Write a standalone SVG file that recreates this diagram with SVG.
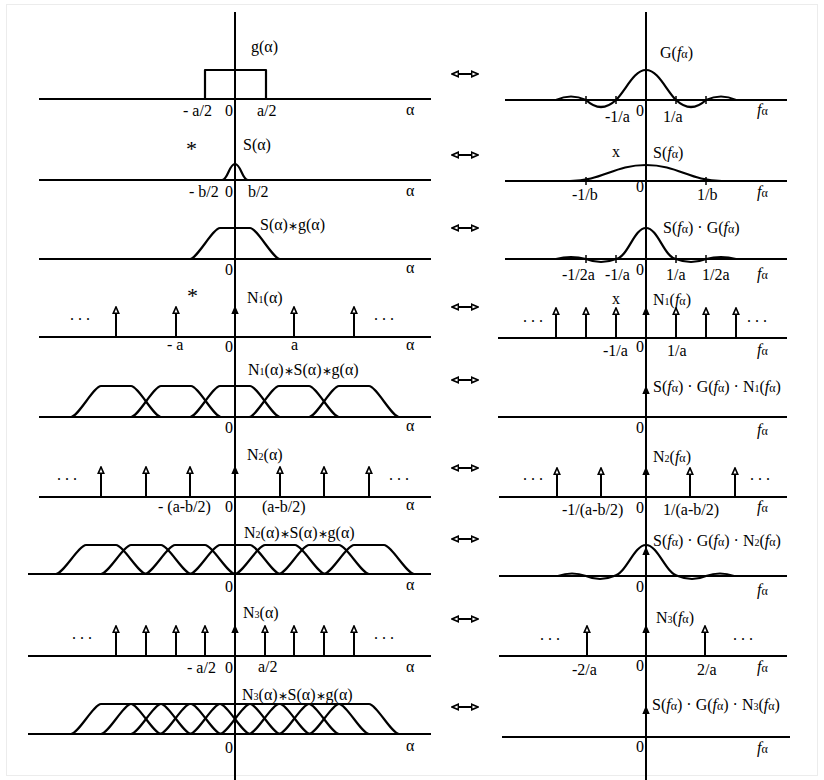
<svg xmlns="http://www.w3.org/2000/svg" width="824" height="780" viewBox="0 0 824 780">
<style>
.ax{stroke:#000;stroke-width:2;fill:none}
.cv{stroke:#000;stroke-width:2.2;fill:none;stroke-linejoin:round}
.tk{stroke:#000;stroke-width:1.5}
.imp{stroke:#000;stroke-width:2;marker-end:url(#oh)}
.imf{stroke:#000;stroke-width:2;marker-end:url(#fh)}
.dbl{stroke:#000;stroke-width:2;marker-start:url(#oh);marker-end:url(#oh)}
text{font-family:"Liberation Serif","Times New Roman",serif;font-size:16px;fill:#000}
.sm{font-size:10px}
.fa{font-size:12px}
.cs{font-size:12px}
.it{font-style:italic}
.star{font-size:22px}
</style>
<defs>
<marker id="oh" viewBox="0 0 10 10" refX="9" refY="5" markerWidth="8" markerHeight="8" markerUnits="userSpaceOnUse" orient="auto-start-reverse"><path d="M1,1.5 L9,5 L1,8.5 Z" fill="#fff" stroke="#000" stroke-width="2"/></marker>
<marker id="fh" viewBox="0 0 10 10" refX="9" refY="5" markerWidth="8" markerHeight="8" markerUnits="userSpaceOnUse" orient="auto"><path d="M1,1.5 L9,5 L1,8.5 Z" fill="#000" stroke="#000" stroke-width="1.5"/></marker>
</defs>
<rect x="0" y="0" width="824" height="780" fill="#fff"/>
<rect x="6.5" y="4.5" width="811" height="771" fill="none" stroke="#ececec" stroke-width="1"/>

<g id="axes">
<line class="ax" x1="235" y1="12" x2="235" y2="780"/>
<line class="ax" x1="646" y1="12" x2="646" y2="780"/>
</g>

<g id="connectors">
<line class="dbl" x1="452" y1="74" x2="478" y2="74"/>
<line class="dbl" x1="452" y1="155" x2="478" y2="155"/>
<line class="dbl" x1="452" y1="228" x2="478" y2="228"/>
<line class="dbl" x1="452" y1="307" x2="478" y2="307"/>
<line class="dbl" x1="452" y1="380" x2="478" y2="380"/>
<line class="dbl" x1="452" y1="468" x2="478" y2="468"/>
<line class="dbl" x1="452" y1="539" x2="478" y2="539"/>
<line class="dbl" x1="452" y1="619" x2="478" y2="619"/>
<line class="dbl" x1="452" y1="707" x2="478" y2="707"/>
</g>

<!-- LEFT COLUMN -->
<g id="g-alpha">
<line class="ax" x1="39" y1="99" x2="431" y2="99"/>
<path class="cv" d="M205,99 V70 H266 V99"/>
<text x="251" y="52">g(α)</text>
<text x="183" y="116">- a/2</text>
<text x="225" y="116">0</text>
<text x="257" y="116">a/2</text>
<text x="406" y="115">α</text>
</g>

<g id="s-alpha">
<text class="star" x="186" y="156">*</text>
<line class="ax" x1="39" y1="180" x2="431" y2="180"/>
<path class="cv" d="M222,180 C228,180 229,164 235,164 C241,164 242,180 248,180"/>
<text x="243" y="150">S(α)</text>
<text x="189" y="197">- b/2</text>
<text x="225" y="197">0</text>
<text x="248" y="197">b/2</text>
<text x="406" y="196">α</text>
</g>

<g id="sg-alpha">
<line class="ax" x1="39" y1="259" x2="431" y2="259"/>
<path class="cv" d="M190,259 C197,259 213,228 220,228 H250 C257,228 273,259 280,259"/>
<text x="260" y="230">S(α)<tspan class="cs">∗</tspan>g(α)</text>
<text x="225" y="275">0</text>
<text x="406" y="273">α</text>
</g>

<g id="n1-alpha">
<text class="star" x="187" y="303">*</text>
<line class="ax" x1="39" y1="337" x2="431" y2="337"/>
<line class="imp" x1="116" y1="337" x2="116" y2="307"/>
<line class="imp" x1="176" y1="337" x2="176" y2="307"/>
<line class="imf" x1="235" y1="337" x2="235" y2="307"/>
<line class="imp" x1="294" y1="337" x2="294" y2="307"/>
<line class="imp" x1="354" y1="337" x2="354" y2="307"/>
<text x="247" y="303">N<tspan class="sm">1</tspan>(α)</text>
<text x="70" y="320">. . .</text>
<text x="374" y="320">. . .</text>
<text x="167" y="350">- a</text>
<text x="225" y="352">0</text>
<text x="291" y="350">a</text>
<text x="406" y="350">α</text>
</g>

<g id="n1sg-alpha">
<line class="ax" x1="39" y1="417" x2="431" y2="417"/>
<path class="cv" d="M71,417 C78,417 94,386 101,386 H131 C138,386 154,417 161,417"/>
<path class="cv" d="M131,417 C138,417 154,386 161,386 H191 C198,386 214,417 221,417"/>
<path class="cv" d="M190,417 C197,417 213,386 220,386 H250 C257,386 273,417 280,417"/>
<path class="cv" d="M249,417 C256,417 272,386 279,386 H309 C316,386 332,417 339,417"/>
<path class="cv" d="M309,417 C316,417 332,386 339,386 H369 C376,386 392,417 399,417"/>
<text x="248" y="375">N<tspan class="sm">1</tspan>(α)<tspan class="cs">∗</tspan>S(α)<tspan class="cs">∗</tspan>g(α)</text>
<text x="225" y="433">0</text>
<text x="406" y="431">α</text>
</g>

<g id="n2-alpha">
<line class="ax" x1="39" y1="497" x2="431" y2="497"/>
<line class="imp" x1="101" y1="497" x2="101" y2="467"/>
<line class="imp" x1="146" y1="497" x2="146" y2="467"/>
<line class="imp" x1="190" y1="497" x2="190" y2="467"/>
<line class="imf" x1="235" y1="497" x2="235" y2="467"/>
<line class="imp" x1="280" y1="497" x2="280" y2="467"/>
<line class="imp" x1="324" y1="497" x2="324" y2="467"/>
<line class="imp" x1="369" y1="497" x2="369" y2="467"/>
<text x="247" y="460">N<tspan class="sm">2</tspan>(α)</text>
<text x="57" y="480">. . .</text>
<text x="389" y="480">. . .</text>
<text x="158" y="512">- (a-b/2)</text>
<text x="225" y="512">0</text>
<text x="262" y="512">(a-b/2)</text>
<text x="406" y="510">α</text>
</g>

<g id="n2sg-alpha">
<line class="ax" x1="28" y1="574" x2="431" y2="574"/>
<path class="cv" d="M56,574 C63,574 79,545 86,545 H116 C123,545 139,574 146,574"/>
<path class="cv" d="M101,574 C108,574 124,545 131,545 H161 C168,545 184,574 191,574"/>
<path class="cv" d="M145,574 C152,574 168,545 175,545 H205 C212,545 228,574 235,574"/>
<path class="cv" d="M190,574 C197,574 213,545 220,545 H250 C257,545 273,574 280,574"/>
<path class="cv" d="M235,574 C242,574 258,545 265,545 H295 C302,545 318,574 325,574"/>
<path class="cv" d="M279,574 C286,574 302,545 309,545 H339 C346,545 362,574 369,574"/>
<path class="cv" d="M324,574 C331,574 347,545 354,545 H384 C391,545 407,574 414,574"/>
<text x="244" y="538">N<tspan class="sm">2</tspan>(α)<tspan class="cs">∗</tspan>S(α)<tspan class="cs">∗</tspan>g(α)</text>
<text x="225" y="592">0</text>
<text x="406" y="590">α</text>
</g>

<g id="n3-alpha">
<line class="ax" x1="28" y1="656" x2="431" y2="656"/>
<line class="imp" x1="116" y1="656" x2="116" y2="626"/>
<line class="imp" x1="146" y1="656" x2="146" y2="626"/>
<line class="imp" x1="176" y1="656" x2="176" y2="626"/>
<line class="imp" x1="205" y1="656" x2="205" y2="626"/>
<line class="imf" x1="235" y1="656" x2="235" y2="626"/>
<line class="imp" x1="265" y1="656" x2="265" y2="626"/>
<line class="imp" x1="294" y1="656" x2="294" y2="626"/>
<line class="imp" x1="324" y1="656" x2="324" y2="626"/>
<line class="imp" x1="354" y1="656" x2="354" y2="626"/>
<text x="243" y="618">N<tspan class="sm">3</tspan>(α)</text>
<text x="72" y="639">. . .</text>
<text x="374" y="639">. . .</text>
<text x="187" y="673">- a/2</text>
<text x="225" y="673">0</text>
<text x="258" y="672">a/2</text>
<text x="406" y="672">α</text>
</g>

<g id="n3sg-alpha">
<line class="ax" x1="28" y1="734" x2="431" y2="734"/>
<path class="cv" d="M71,734 C78,734 94,704 101,704 H131 C138,704 154,734 161,734"/>
<path class="cv" d="M101,734 C108,734 124,704 131,704 H161 C168,704 184,734 191,734"/>
<path class="cv" d="M131,734 C138,734 154,704 161,704 H191 C198,704 214,734 221,734"/>
<path class="cv" d="M160,734 C167,734 183,704 190,704 H220 C227,704 243,734 250,734"/>
<path class="cv" d="M190,734 C197,734 213,704 220,704 H250 C257,704 273,734 280,734"/>
<path class="cv" d="M220,734 C227,734 243,704 250,704 H280 C287,704 303,734 310,734"/>
<path class="cv" d="M249,734 C256,734 272,704 279,704 H309 C316,704 332,734 339,734"/>
<path class="cv" d="M279,734 C286,734 302,704 309,704 H339 C346,704 362,734 369,734"/>
<path class="cv" d="M309,734 C316,734 332,704 339,704 H369 C376,704 392,734 399,734"/>
<text x="242" y="700">N<tspan class="sm">3</tspan>(α)<tspan class="cs">∗</tspan>S(α)<tspan class="cs">∗</tspan>g(α)</text>
<text x="225" y="753">0</text>
<text x="406" y="751">α</text>
</g>

<!-- RIGHT COLUMN -->
<g id="G-f">
<line class="ax" x1="505" y1="100" x2="787" y2="100"/>
<path class="cv" d="M556,100 Q571,93 586,100 Q601,114 616,100 C626,90 634,70 646,70 C658,70 666,90 676,100 Q691,114 706,100 Q721,93 736,100"/>
<path class="tk" d="M586,96 V104 M616,96 V104 M676,96 V104 M706,96 V104"/>
<text x="660" y="58">G(<tspan class="it">f</tspan><tspan class="fa">α</tspan>)</text>
<text x="605" y="122">-1/a</text>
<text x="636" y="116">0</text>
<text x="663" y="122">1/a</text>
<text x="757" y="115"><tspan class="it">f</tspan><tspan class="fa">α</tspan></text>
</g>

<g id="S-f">
<text x="612" y="157">x</text>
<line class="ax" x1="505" y1="181" x2="787" y2="181"/>
<path class="cv" d="M570,181 C602,181 614,165 646,165 C678,165 690,181 722,181"/>
<path class="tk" d="M586,177 V185 M706,177 V185"/>
<text x="653" y="158">S(<tspan class="it">f</tspan><tspan class="fa">α</tspan>)</text>
<text x="572" y="200">-1/b</text>
<text x="636" y="192">0</text>
<text x="697" y="200">1/b</text>
<text x="757" y="197"><tspan class="it">f</tspan><tspan class="fa">α</tspan></text>
</g>

<g id="SG-f">
<line class="ax" x1="505" y1="259" x2="787" y2="259"/>
<path class="cv" d="M556,259 Q571,255 586,259 Q601,265 616,259 C628,257 634,228 646,228 C658,228 664,257 676,259 Q691,265 706,259 Q721,255 736,259"/>
<path class="tk" d="M586,255 V263 M616,255 V263 M676,255 V263 M706,255 V263"/>
<text x="663" y="233">S(<tspan class="it">f</tspan><tspan class="fa">α</tspan>) · G(<tspan class="it">f</tspan><tspan class="fa">α</tspan>)</text>
<text x="562" y="280">-1/2a</text>
<text x="605" y="280">-1/a</text>
<text x="636" y="275">0</text>
<text x="666" y="280">1/a</text>
<text x="702" y="280">1/2a</text>
<text x="757" y="279"><tspan class="it">f</tspan><tspan class="fa">α</tspan></text>
</g>

<g id="N1-f">
<text x="612" y="304">x</text>
<line class="ax" x1="498" y1="338" x2="787" y2="338"/>
<line class="imp" x1="556" y1="338" x2="556" y2="308"/>
<line class="imp" x1="586" y1="338" x2="586" y2="308"/>
<line class="imp" x1="616" y1="338" x2="616" y2="308"/>
<line class="imf" x1="646" y1="338" x2="646" y2="308"/>
<line class="imp" x1="676" y1="338" x2="676" y2="308"/>
<line class="imp" x1="706" y1="338" x2="706" y2="308"/>
<line class="imp" x1="736" y1="338" x2="736" y2="308"/>
<text x="653" y="305">N<tspan class="sm">1</tspan>(<tspan class="it">f</tspan><tspan class="fa">α</tspan>)</text>
<text x="523" y="322">. . .</text>
<text x="747" y="322">. . .</text>
<text x="603" y="356">-1/a</text>
<text x="636" y="352">0</text>
<text x="667" y="356">1/a</text>
<text x="757" y="355"><tspan class="it">f</tspan><tspan class="fa">α</tspan></text>
</g>

<g id="SGN1-f">
<line class="ax" x1="498" y1="417" x2="787" y2="417"/>
<line class="imf" x1="646" y1="417" x2="646" y2="387"/>
<text x="653" y="392">S(<tspan class="it">f</tspan><tspan class="fa">α</tspan>) · G(<tspan class="it">f</tspan><tspan class="fa">α</tspan>) · N<tspan class="sm">1</tspan>(<tspan class="it">f</tspan><tspan class="fa">α</tspan>)</text>
<text x="636" y="433">0</text>
<text x="757" y="435"><tspan class="it">f</tspan><tspan class="fa">α</tspan></text>
</g>

<g id="N2-f">
<line class="ax" x1="499" y1="497" x2="787" y2="497"/>
<line class="imp" x1="557" y1="497" x2="557" y2="468"/>
<line class="imp" x1="601" y1="497" x2="601" y2="468"/>
<line class="imf" x1="646" y1="497" x2="646" y2="468"/>
<line class="imp" x1="690" y1="497" x2="690" y2="468"/>
<line class="imp" x1="735" y1="497" x2="735" y2="468"/>
<text x="653" y="462">N<tspan class="sm">2</tspan>(<tspan class="it">f</tspan><tspan class="fa">α</tspan>)</text>
<text x="523" y="480">. . .</text>
<text x="750" y="480">. . .</text>
<text x="562" y="515">-1/(a-b/2)</text>
<text x="636" y="513">0</text>
<text x="663" y="515">1/(a-b/2)</text>
<text x="757" y="512"><tspan class="it">f</tspan><tspan class="fa">α</tspan></text>
</g>

<g id="SGN2-f">
<line class="ax" x1="499" y1="576" x2="787" y2="576"/>
<path class="cv" d="M558,576 Q572,571 586,576 Q600,582 614,576 C626,574 634,545 646,545 C658,545 666,574 678,576 Q692,582 706,576 Q720,571 734,576"/>
<line class="imf" x1="646" y1="576" x2="646" y2="548"/>
<text x="653" y="546">S(<tspan class="it">f</tspan><tspan class="fa">α</tspan>) · G(<tspan class="it">f</tspan><tspan class="fa">α</tspan>) · N<tspan class="sm">2</tspan>(<tspan class="it">f</tspan><tspan class="fa">α</tspan>)</text>
<text x="636" y="592">0</text>
<text x="757" y="595"><tspan class="it">f</tspan><tspan class="fa">α</tspan></text>
</g>

<g id="N3-f">
<line class="ax" x1="499" y1="656" x2="787" y2="656"/>
<line class="imp" x1="587" y1="656" x2="587" y2="626"/>
<line class="imf" x1="646" y1="656" x2="646" y2="626"/>
<line class="imp" x1="705" y1="656" x2="705" y2="626"/>
<text x="656" y="623">N<tspan class="sm">3</tspan>(<tspan class="it">f</tspan><tspan class="fa">α</tspan>)</text>
<text x="540" y="640">. . .</text>
<text x="733" y="640">. . .</text>
<text x="572" y="675">-2/a</text>
<text x="636" y="671">0</text>
<text x="697" y="675">2/a</text>
<text x="757" y="672"><tspan class="it">f</tspan><tspan class="fa">α</tspan></text>
</g>

<g id="SGN3-f">
<line class="ax" x1="502" y1="737" x2="790" y2="737"/>
<line class="imf" x1="646" y1="737" x2="646" y2="707"/>
<text x="652" y="710">S(<tspan class="it">f</tspan><tspan class="fa">α</tspan>) · G(<tspan class="it">f</tspan><tspan class="fa">α</tspan>) · N<tspan class="sm">3</tspan>(<tspan class="it">f</tspan><tspan class="fa">α</tspan>)</text>
<text x="636" y="752">0</text>
<text x="757" y="753"><tspan class="it">f</tspan><tspan class="fa">α</tspan></text>
</g>
</svg>
